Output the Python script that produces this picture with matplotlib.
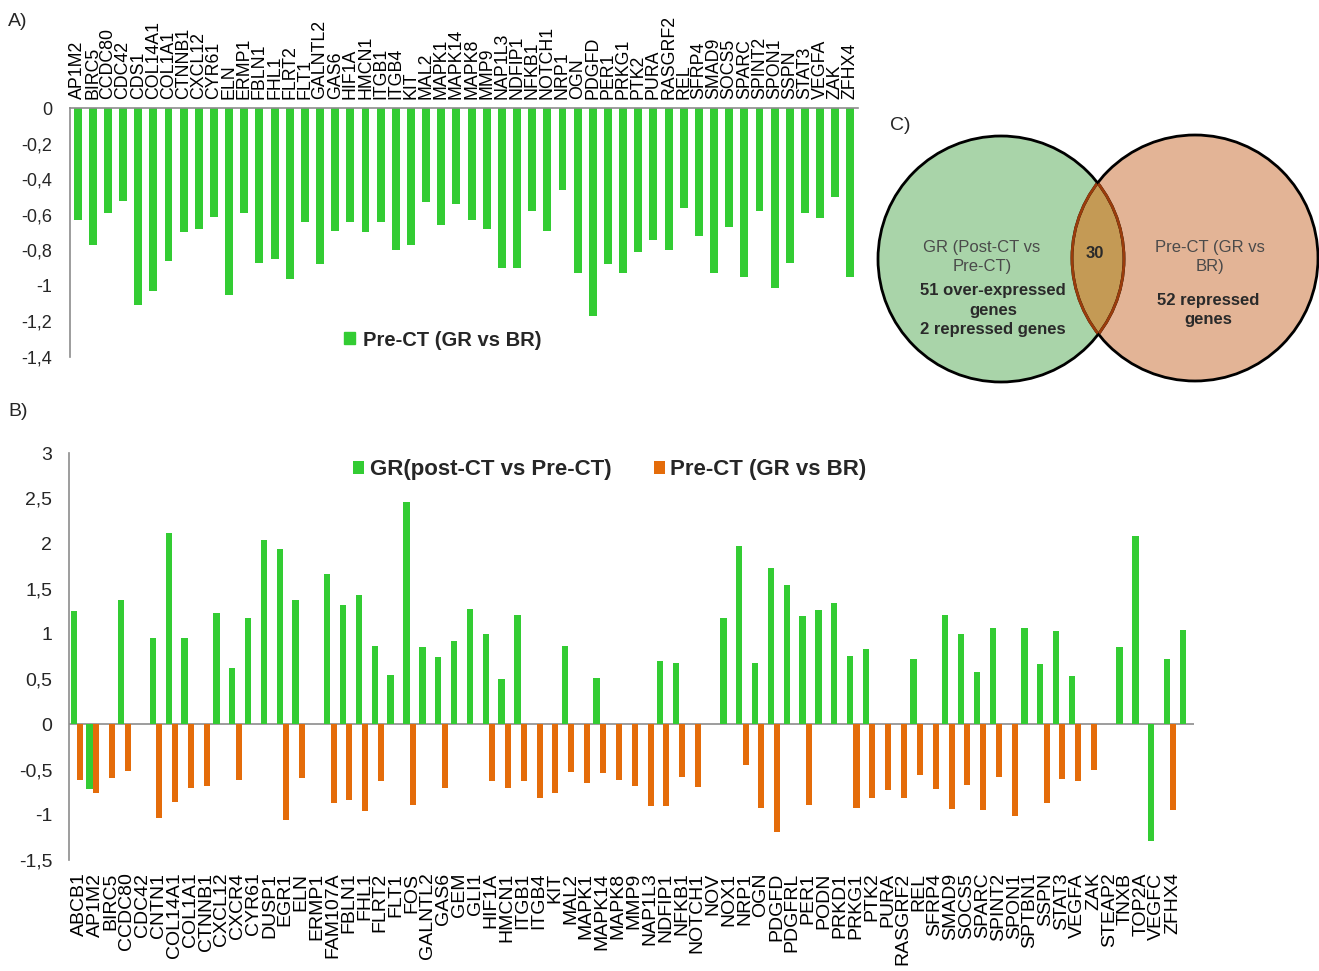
import numpy as np
import matplotlib.pyplot as plt
from matplotlib.patches import Circle, Patch

plt.rcParams['font.family'] = ['Liberation Sans', 'DejaVu Sans']

nan = np.nan

# A) Pre-CT (GR vs BR): 52 repressed genes
genes_a = ["AP1M2", "BIRC5", "CCDC80", "CDC42", "CDS1", "COL14A1", "COL1A1", "CTNNB1",
           "CXCL12", "CYR61", "ELN", "ERMP1", "FBLN1", "FHL1", "FLRT2", "FLT1", "GALNTL2",
           "GAS6", "HIF1A", "HMCN1", "ITGB1", "ITGB4", "KIT", "MAL2", "MAPK1", "MAPK14",
           "MAPK8", "MMP9", "NAP1L3", "NDFIP1", "NFKB1", "NOTCH1", "NRP1", "OGN", "PDGFD",
           "PER1", "PRKG1", "PTK2", "PURA", "RASGRF2", "REL", "SFRP4", "SMAD9", "SOCS5",
           "SPARC", "SPINT2", "SPON1", "SSPN", "STAT3", "VEGFA", "ZAK", "ZFHX4"]
pre_ct_a = [-0.63, -0.77, -0.59, -0.52, -1.11, -1.03, -0.86, -0.70, -0.68, -0.61, -1.05,
            -0.59, -0.87, -0.85, -0.96, -0.64, -0.88, -0.69, -0.64, -0.70, -0.64, -0.80,
            -0.77, -0.53, -0.66, -0.54, -0.63, -0.68, -0.90, -0.90, -0.58, -0.69, -0.46,
            -0.93, -1.17, -0.88, -0.93, -0.81, -0.74, -0.80, -0.56, -0.72, -0.93, -0.67,
            -0.95, -0.58, -1.01, -0.87, -0.59, -0.62, -0.50, -0.95]

# B) both comparisons (71 bar slots, 70 labels as printed)
genes_b = ["ABCB1", "AP1M2", "BIRC5", "CCDC80", "CDC42", "CNTN1", "COL14A1", "COL1A1",
           "CTNNB1", "CXCL12", "CXCR4", "CYR61", "DUSP1", "EGR1", "ELN", "ERMP1", "FAM107A",
           "FBLN1", "FHL1", "FLRT2", "FLT1", "FOS", "GALNTL2", "GAS6", "GEM", "GLI1", "HIF1A",
           "HMCN1", "ITGB1", "ITGB4", "KIT", "MAL2", "MAPK1", "MAPK14", "MAPK8", "MMP9",
           "NAP1L3", "NDFIP1", "NFKB1", "NOTCH1", "NOV", "NOX1", "NRP1", "OGN", "PDGFD",
           "PDGFRL", "PER1", "PODN", "PRKD1", "PRKG1", "PTK2", "PURA", "RASGRF2", "REL",
           "SFRP4", "SMAD9", "SOCS5", "SPARC", "SPINT2", "SPON1", "SPTBN1", "SSPN", "STAT3",
           "VEGFA", "ZAK", "STEAP2", "TNXB", "TOP2A", "VEGFC", "ZFHX4"]
gr_post_pre = [1.25, -0.72, nan, 1.37, nan, 0.95, 2.11, 0.96, nan, 1.23,
               0.62, 1.18, 2.04, 1.94, 1.37, nan, 1.66, 1.32, 1.43, 0.87,
               0.54, 2.46, 0.85, 0.75, 0.92, 1.27, 1.00, 0.50, 1.21, nan,
               nan, 0.87, nan, 0.51, nan, nan, nan, 0.70, 0.68, nan,
               nan, 1.18, 1.97, 0.68, 1.73, 1.54, 1.20, 1.26, 1.34, 0.76,
               0.83, nan, nan, 0.72, nan, 1.21, 1.00, 0.58, 1.07, nan,
               1.06, 0.67, 1.03, 0.53, nan, nan, 0.85, 2.08, -1.29, 0.72,
               1.04]
pre_ct_b = [-0.62, -0.76, -0.59, -0.52, nan, -1.04, -0.86, -0.70, -0.68, nan,
            -0.61, nan, nan, -1.06, -0.59, nan, -0.87, -0.84, -0.96, -0.63,
            nan, -0.89, nan, -0.70, nan, nan, -0.63, -0.70, -0.63, -0.81,
            -0.76, -0.53, -0.65, -0.54, -0.62, -0.68, -0.90, -0.90, -0.58, -0.69,
            nan, nan, -0.45, -0.92, -1.19, nan, -0.89, nan, nan, -0.92,
            -0.81, -0.73, -0.81, -0.56, -0.72, -0.94, -0.67, -0.95, -0.58, -1.01,
            nan, -0.87, -0.60, -0.63, -0.51, nan, nan, nan, nan, -0.95,
            nan]

# C) Venn counts
n_gr_over = 51
n_gr_rep = 2
n_pre_rep = 52
n_common = 30

GREEN = "#33cc33"
ORANGE = "#e46c0a"
AXC = "#8c8c8c"
TXT = "#262626"

W, H = 1319, 971
fig = plt.figure(figsize=(W / 100, H / 100), dpi=100)


def fx(px):
    return px / W


def fy(py):
    return 1 - py / H


def comma(v):
    v = round(v, 2)
    if v == 0:
        return "0"
    return f"{v:g}".replace(".", ",")


# ---------- A ----------
axA = fig.add_axes([fx(70), fy(356.7), fx(858) - fx(70), fy(108.3) - fy(356.7)])
xa = np.arange(len(genes_a))
axA.bar(xa, pre_ct_a, width=0.52, color=GREEN)
axA.set_xlim(-0.5, len(genes_a) - 0.5)
axA.set_ylim(-1.4, 0)
yt = np.arange(-1.4, 0.01, 0.2)
axA.set_yticks(yt)
axA.set_yticklabels([comma(v) for v in yt], fontsize=13, color=TXT)
axA.xaxis.tick_top()
axA.set_xticks(xa)
axA.set_xticklabels(genes_a, rotation=90, fontsize=12.8, color="black")
axA.tick_params(axis="x", length=0, pad=7)
axA.tick_params(axis="y", length=0, pad=13)
for s in ["right", "bottom"]:
    axA.spines[s].set_visible(False)
for s in ["left", "top"]:
    axA.spines[s].set_color(AXC)
    axA.spines[s].set_linewidth(1.2)

fig.legend(handles=[Patch(color=GREEN)], labels=["Pre-CT (GR vs BR)"], loc="center",
           bbox_to_anchor=(fx(443), fy(340)), frameon=False,
           prop=dict(weight="bold", size=14.5), handlelength=0.55, handleheight=0.55,
           handletextpad=0.4)
for t in fig.legends[-1].get_texts():
    t.set_color(TXT)

# ---------- B ----------
axB = fig.add_axes([fx(69), fy(860), fx(1194) - fx(69), fy(453) - fy(860)])
xb = np.arange(len(gr_post_pre))
axB.bar(xb - 0.2, gr_post_pre, width=0.4, color=GREEN, label="GR(post-CT vs Pre-CT)")
axB.bar(xb + 0.2, pre_ct_b, width=0.38, color=ORANGE, label="Pre-CT (GR vs BR)")
axB.axhline(0, color=AXC, lw=1.2, zorder=0)
axB.set_xlim(-0.5, len(xb) - 0.5)
axB.set_ylim(-1.5, 3)
ytb = np.arange(-1.5, 3.01, 0.5)
axB.set_yticks(ytb)
axB.set_yticklabels([comma(v) for v in ytb], fontsize=14, color=TXT)
axB.set_xticks(np.arange(len(genes_b)) + 0.15)
axB.set_xticklabels(genes_b, rotation=90, fontsize=14, color="black")
axB.tick_params(axis="x", length=0, pad=9)
axB.tick_params(axis="y", length=0, pad=12)
for s in ["right", "bottom", "top"]:
    axB.spines[s].set_visible(False)
axB.spines["left"].set_color(AXC)
axB.spines["left"].set_linewidth(1.2)
leg = axB.legend(loc="center", bbox_to_anchor=(fx(610), fy(470)), bbox_transform=fig.transFigure,
                 ncol=2, frameon=False, prop=dict(weight="bold", size=16),
                 handlelength=0.5, handleheight=0.5, handletextpad=0.25, columnspacing=1.9)
for t in leg.get_texts():
    t.set_color(TXT)

# ---------- C: Venn ----------
axC = fig.add_axes([0, 0, 1, 1], zorder=-1)
axC.set_xlim(0, W)
axC.set_ylim(H, 0)
axC.axis("off")
left_c = (1001, 259)
right_c = (1195, 258)
r = 123
cl = Circle(left_c, r, facecolor="#a9d4a9", edgecolor="none")
cr = Circle(right_c, r, facecolor="#e3b496", edgecolor="none")
axC.add_patch(cl)
axC.add_patch(cr)
ov = Circle(right_c, r, facecolor="#c49a55", edgecolor="none")
axC.add_patch(ov)
ov.set_clip_path(Circle(left_c, r, transform=axC.transData))
for c in [left_c, right_c]:
    axC.add_patch(Circle(c, r, facecolor="none", edgecolor="black", lw=2))
e1 = Circle(left_c, r, facecolor="none", edgecolor="#9a3c0c", lw=2)
axC.add_patch(e1)
e1.set_clip_path(Circle(right_c, r - 1, transform=axC.transData))
e2 = Circle(right_c, r, facecolor="none", edgecolor="#9a3c0c", lw=2)
axC.add_patch(e2)
e2.set_clip_path(Circle(left_c, r - 1, transform=axC.transData))

axC.text(982, 257, "GR (Post-CT vs\nPre-CT)", ha="center", va="center", fontsize=12,
         color="#4a4a4a", linespacing=1.3)
axC.text(993, 310, f"{n_gr_over} over-expressed\ngenes\n{n_gr_rep} repressed genes",
         ha="center", va="center", fontsize=12, weight="bold", color="#2a2a2a", linespacing=1.4)
axC.text(1210, 257, "Pre-CT (GR vs\nBR)", ha="center", va="center", fontsize=12,
         color="#4a4a4a", linespacing=1.3)
axC.text(1208, 310, f"{n_pre_rep} repressed\ngenes", ha="center", va="center", fontsize=12,
         weight="bold", color="#2a2a2a", linespacing=1.4)
axC.text(1095, 253, str(n_common), ha="center", va="center", fontsize=12, weight="bold",
         color="#2a2a2a")

fig.text(fx(8), fy(22), "A)", fontsize=14, va="center", color=TXT)
fig.text(fx(8), fy(412), "B)", fontsize=14, va="center", color=TXT)
fig.text(fx(890), fy(125), "C)", fontsize=14, va="center", color=TXT)

fig.savefig("out.png", dpi=100)
